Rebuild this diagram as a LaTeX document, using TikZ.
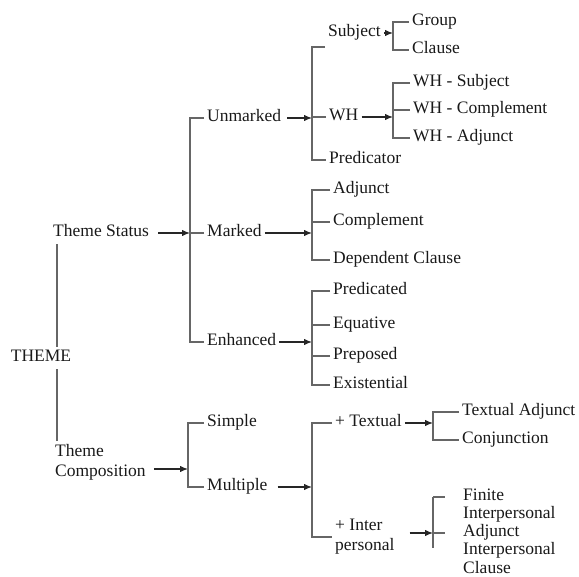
\documentclass[tikz,border=0pt]{standalone}
\usepackage{fontspec}
\setmainfont{Liberation Serif}
\usepackage{tikz}
\usetikzlibrary{arrows.meta}

\begin{document}
\begin{tikzpicture}[x=1pt,y=-1pt]
	\tikzset{item/.style={anchor=west,inner sep=3pt,text=black!90,
			font=\fontsize{17.5}{20}\selectfont,text height=12pt,text depth=4pt},
		multi/.style={anchor=west,inner sep=3pt,text=black!90,align=left,
			font=\fontsize{17.5}{20}\selectfont},
		line/.style={draw=black!60,line width=1.2pt},
		arr/.style={draw=black!85,line width=1.2pt,-{Latex[length=8pt,width=6.5pt]}}}

\useasboundingbox (0,0) rectangle (579,577);

\node[item,anchor=center] (theme) at (41,358) {THEME};
\node[item] (tstat) at (50,233) {Theme Status};
\node[multi] (tcomp) at (52,462) {Theme\\Composition};

\node[item] (unm) at (204,118) {Unmarked};
\node[item] (mrk) at (204,233) {Marked};
\node[item] (enh) at (204,342) {Enhanced};
\node[item] (simp) at (204,423) {Simple};
\node[item] (mult) at (204,487) {Multiple};

\node[item] (subj) at (325,33) {Subject};
\node[item] (wh) at (326,117) {WH};
\node[item] (pred) at (326,160) {Predicator};
\node[item] (grp) at (409,22) {Group};
\node[item] (cls) at (409,50) {Clause};
\node[item] (whs) at (410,83) {WH - Subject};
\node[item] (whc) at (410,110) {WH - Complement};
\node[item] (wha) at (410,138) {WH - Adjunct};

\node[item] (adj) at (330,190) {Adjunct};
\node[item] (comp) at (330,222) {Complement};
\node[item] (dep) at (330,260) {Dependent Clause};

\node[item] (predd) at (330,291) {Predicated};
\node[item] (equ) at (330,325) {Equative};
\node[item] (prep) at (330,356) {Preposed};
\node[item] (exis) at (330,385) {Existential};

\node[item] (txt) at (332,423) {+ Textual};
\node[multi] (inter) at (332,537) {+ Inter\\personal};
\node[item] (tadj) at (459,412) {Textual Adjunct};
\node[item] (conj) at (459,440) {Conjunction};
\node[multi,font=\fontsize{17.5}{18.2}\selectfont] (fin) at (460,531)
	{Finite\\Interpersonal\\Adjunct\\Interpersonal\\Clause};

\coordinate (b1) at (190,0);
\coordinate (b2) at (312,0);
\coordinate (b3) at (393,0);
\coordinate (b4) at (188,0);
\coordinate (b5) at (433,0);
\coordinate (s1) at ([yshift=-14pt]subj.west);
\coordinate (c1) at ([yshift=-7pt,xshift=5pt]tcomp.east);
\coordinate (i1) at ([yshift=4pt,xshift=12pt]inter.east);
\coordinate (f1) at (433,497);
\coordinate (f2) at (433,548);

\draw[line] (tstat.south west) ++(7,0) coordinate (t1) -- (t1 |- theme.north);
\draw[line] (t1 |- theme.south) -- (t1 |- tcomp.north);

\draw[arr] ([xshift=6pt]tstat.east) -- (tstat.east -| b1);
\draw[line] (unm.west) -- (unm.west -| b1) -- (enh.west -| b1) -- (enh.west);
\draw[line] (mrk.west) -- (mrk.west -| b1);

\draw[arr] ([xshift=3pt]unm.east) -- (unm.east -| b2);
\draw[line] (s1) -- (s1 -| b2) -- (pred.west -| b2) -- (pred.west);
\draw[line] (wh.west) -- (wh.west -| b2);

\draw[arr] (subj.east) -- (subj.east -| b3);
\draw[line] (grp.west) -- (grp.west -| b3) -- (cls.west -| b3) -- (cls.west);

\draw[arr] (wh.east) -- (wh.east -| b3);
\draw[line] (whs.west) -- (whs.west -| b3) -- (wha.west -| b3) -- (wha.west);
\draw[line] (whc.west) -- (whc.west -| b3);

\draw[arr] (mrk.east) -- (mrk.east -| b2);
\draw[line] (adj.west) -- (adj.west -| b2) -- (dep.west -| b2) -- (dep.west);
\draw[line] (comp.west) -- (comp.west -| b2);

\draw[arr] (enh.east) -- (enh.east -| b2);
\draw[line] (predd.west) -- (predd.west -| b2) -- (exis.west -| b2) -- (exis.west);
\draw[line] (equ.west) -- (equ.west -| b2);
\draw[line] (prep.west) -- (prep.west -| b2);

\draw[arr] (c1) -- (c1 -| b4);
\draw[line] (simp.west) -- (simp.west -| b4) -- (mult.west -| b4) -- (mult.west);

\draw[arr] ([xshift=7pt]mult.east) -- (mult.east -| b2);
\draw[line] (txt.west) -- (txt.west -| b2) -- (inter.west -| b2) -- (inter.west);

\draw[arr] (txt.east) -- (txt.east -| b5);
\draw[line] (tadj.west) -- (tadj.west -| b5) -- (conj.west -| b5) -- (conj.west);

\draw[arr] (i1) -- (i1 -| b5);
\draw[line,shorten >=15pt] (f1) -- (f1 -| fin.west);
\draw[line,shorten >=15pt] (i1 -| b5) -- (i1 -| fin.west);
\draw[line] (f1) -- (f2);
\end{tikzpicture}
\end{document}
